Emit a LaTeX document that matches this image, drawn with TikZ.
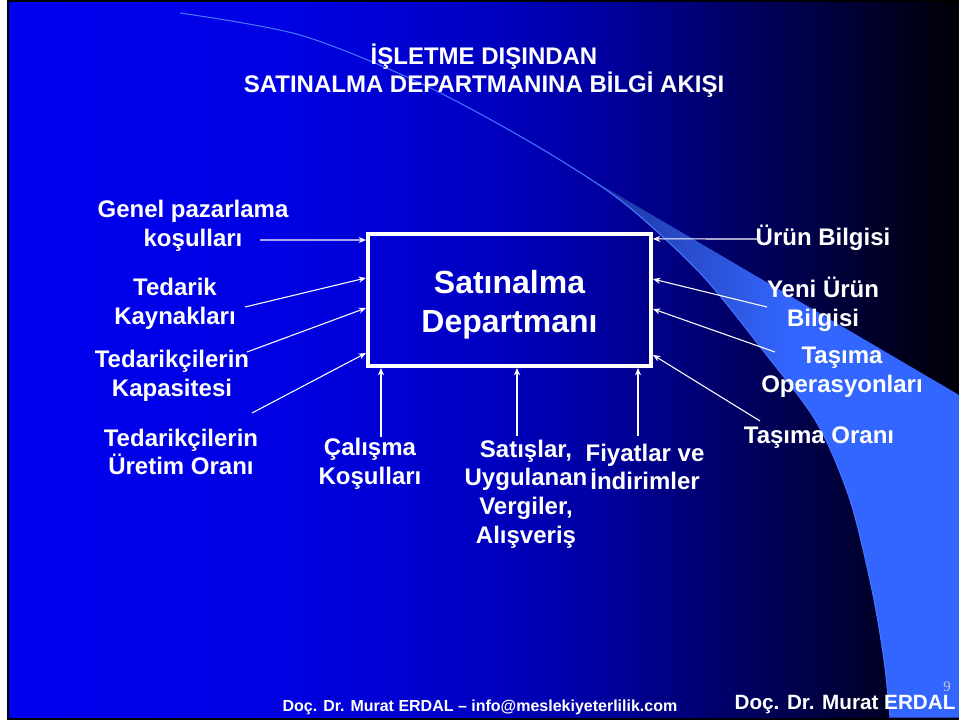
\documentclass[tikz,border=0pt]{standalone}
\usepackage{fontspec}
\setmainfont{Liberation Sans}
\newfontfamily\serifnum{Liberation Serif}
\usetikzlibrary{arrows.meta,calc}
\definecolor{bgA}{RGB}{0,0,240}
\definecolor{bgB}{RGB}{0,0,225}
\definecolor{bgC}{RGB}{0,0,195}
\definecolor{bgD}{RGB}{0,0,160}
\definecolor{bgE}{RGB}{0,0,115}
\definecolor{bgF}{RGB}{0,0,75}
\definecolor{bgG}{RGB}{0,0,40}
\definecolor{bgH}{RGB}{0,0,6}
\definecolor{bandA}{RGB}{22,40,140}
\definecolor{bandB}{RGB}{40,75,200}
\definecolor{bandC}{RGB}{51,102,255}
\definecolor{bandline}{RGB}{70,115,255}
\definecolor{pgnum}{RGB}{200,200,215}
\pgfdeclarehorizontalshading{bgsh}{100bp}{color(0bp)=(bgA); color(25bp)=(bgA); color(40.3bp)=(bgB); color(49.8bp)=(bgC); color(56.1bp)=(bgD); color(61.4bp)=(bgE); color(66.6bp)=(bgF); color(70.8bp)=(bgG); color(75bp)=(bgH); color(100bp)=(bgH)}
\pgfdeclarehorizontalshading{bandsh}{100bp}{color(0bp)=(bandA); color(25bp)=(bandA); color(40bp)=(bandB); color(54bp)=(bandC); color(75bp)=(bandC); color(100bp)=(bandC)}
\begin{document}
\begin{tikzpicture}[x=0.75pt,y=-0.75pt,
  lbl/.style={text=white,font=\fontsize{18}{21.5}\selectfont\bfseries,align=center,inner sep=0pt},
  arr/.style={white,line width=0.8pt,-{Stealth[length=5.5pt,width=4.5pt]}},
  boxstyle/.style={draw=white,line width=3pt,inner sep=0pt,minimum width=212.25pt,minimum height=99pt},
  boxtext/.style={text=white,font=\fontsize{24}{29}\selectfont\bfseries,align=center,inner sep=0pt},
  titlestyle/.style={text=white,font=\fontsize{18}{21}\selectfont\bfseries,align=center,inner sep=0pt}
]
\useasboundingbox (0,0) rectangle (959,723);
\fill[white] (0,0) rectangle (959,723);
\fill[black] (7,0) rectangle (959,720);
\shade[shading=bgsh] (9.5,3) rectangle (959,717.5);
% swoosh band
\shade[shading=bandsh] plot[smooth] coordinates {(560,161) (620,200) (700,273) (765,353) (817,423) (850,500) (872,590) (884,660) (890,717.5)} -- (959,717.5) -- (959,395) -- cycle;
\draw[bandline,line width=0.8pt] plot[smooth] coordinates {(180,13) (300,35) (420,83) (530,142) (620,200) (700,273) (765,353) (817,423) (850,500) (872,590) (884,660) (890,717.5)};

% title
\node[titlestyle] (title) at (484,71) {İŞLETME DIŞINDAN\\SATINALMA DEPARTMANINA BİLGİ AKIŞI};

% central box
\node[boxstyle] (box) at (509.5,300) {};
\node[boxtext] (boxlabel) at (509.5,305) {Satınalma\\Departmanı};

% left labels
\node[lbl] (genel) at (193,226) {Genel pazarlama\\koşulları};
\node[lbl] (tedarik) at (175,304) {Tedarik\\Kaynakları};
\node[lbl] (kapasite) at (172,376) {Tedarikçilerin\\Kapasitesi};
\node[lbl] (uretim) at (181,452) {Tedarikçilerin\\Üretim Oranı};
% bottom labels
\node[lbl] (calisma) at (370,464) {Çalışma\\Koşulları};
\node[lbl] (satislar) at (526,494) {Satışlar,\\Uygulanan\\Vergiler,\\Alışveriş};
\node[lbl] (fiyatlar) at (645,467) {Fiyatlar ve\\İndirimler};
% right labels
\node[lbl] (urun) at (823,238) {Ürün Bilgisi};
\node[lbl] (yeni) at (823,304) {Yeni Ürün\\Bilgisi};
\node[lbl] (tasimaop) at (842,372) {Taşıma\\Operasyonları};
\node[lbl] (tasimaor) at (819,438) {Taşıma Oranı};

% arrow tails
\coordinate (t1) at (260,240);
\coordinate (t2) at (245,307);
\coordinate (t3) at (247,352);
\coordinate (t4) at (252,413);
\coordinate (t5) at (381,437);
\coordinate (t6) at (517,436);
\coordinate (t7) at (638,436);
\coordinate (t8) at (757,239);
\coordinate (t9) at (767,307);
\coordinate (t10) at (775,352);
\coordinate (t11) at (760,421);

% arrows
\draw[arr] (t1) -- ($(box.north west)!0.059!(box.south west)$);
\draw[arr] (t2) -- ($(box.north west)!0.338!(box.south west)$);
\draw[arr] (t3) -- ($(box.north west)!0.559!(box.south west)$);
\draw[arr] (t4) -- ($(box.north west)!0.890!(box.south west)$);
\draw[arr] (t5) -- (t5 |- box.south);
\draw[arr] (t6) -- (t6 |- box.south);
\draw[arr] (t7) -- (t7 |- box.south);
\draw[arr] (t8) -- ($(box.north east)!0.051!(box.south east)$);
\draw[arr] (t9) -- ($(box.north east)!0.346!(box.south east)$);
\draw[arr] (t10) -- ($(box.north east)!0.566!(box.south east)$);
\draw[arr] (t11) -- ($(box.north east)!0.904!(box.south east)$);

% footer
\node[text=white,font=\fontsize{12}{14}\selectfont\bfseries,inner sep=0pt] (foot1) at (480,707) {Doç. Dr. Murat ERDAL – info@meslekiyeterlilik.com};
\node[text=white,font=\fontsize{15.5}{18}\selectfont\bfseries,inner sep=0pt] (foot2) at (845,705) {Doç. Dr. Murat ERDAL};
\node[text=pgnum,font=\serifnum\fontsize{11}{13}\selectfont,inner sep=0pt] (pnum) at (947,687) {9};
\end{tikzpicture}
\end{document}
